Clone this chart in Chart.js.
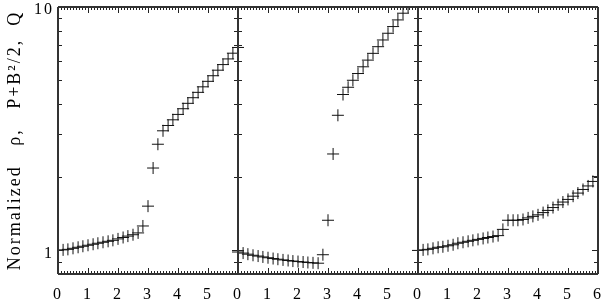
<!DOCTYPE html>
<html>
<head>
<meta charset="utf-8">
<script src="https://cdn.jsdelivr.net/npm/chart.js@4"></script>
<style>
  body { margin: 0; background: #fff; }
  #wrap { width: 605px; height: 300px; position: relative; }
</style>
</head>
<body>
<div id="wrap"><canvas id="chart"></canvas></div>
<script>
// x positions inside one panel (same for all three)
const xGrid = [0, 0.17, 0.33, 0.5, 0.67, 0.83, 1, 1.17, 1.33, 1.5, 1.67, 1.83, 2, 2.17, 2.33, 2.5, 2.67, 2.83,
    3, 3.17, 3.33, 3.5, 3.67, 3.83, 4, 4.17, 4.33, 4.5, 4.67, 4.83, 5, 5.17, 5.33, 5.5, 5.67, 5.83, 6];

// panel 1: rho
const rhoValues = [1.00, 1.005, 1.01, 1.02, 1.03, 1.04, 1.05, 1.06, 1.07, 1.08, 1.09, 1.10, 1.115, 1.13, 1.145, 1.16, 1.18, 1.26,
    1.52, 2.18, 2.73, 3.10, 3.26, 3.44, 3.62, 3.82, 4.02, 4.24, 4.46, 4.70, 4.95, 5.22, 5.50, 5.80, 6.12, 6.46, 6.82];

// panel 2: P + B^2/2
const pressureValues = [0.985, 0.975, 0.965, 0.955, 0.948, 0.94, 0.933, 0.926, 0.92, 0.914, 0.909, 0.904, 0.90, 0.896, 0.892, 0.889, 0.886, 0.96,
    1.33, 2.49, 3.59, 4.37, 4.68, 5.00, 5.33, 5.68, 6.05, 6.45, 6.87, 7.32, 7.80, 8.31, 8.85, 9.43, 10.0, 10.7, 11.4];

// panel 3: Q
const qValues = [1.00, 1.005, 1.01, 1.02, 1.03, 1.035, 1.045, 1.055, 1.07, 1.08, 1.09, 1.10, 1.11, 1.12, 1.13, 1.14, 1.15, 1.22,
    1.33, 1.33, 1.33, 1.34, 1.36, 1.38, 1.40, 1.43, 1.46, 1.50, 1.54, 1.58, 1.62, 1.67, 1.72, 1.78, 1.84, 1.92, 2.01];

const panelOffsets = [0, 6, 12];
const yLabelTicks = [1, 10];
const yMinorTicks = [0.8, 0.9, 2, 3, 4, 5, 6, 7, 8, 9];

const seriesList = [rhoValues, pressureValues, qValues];

const datasets = seriesList.map((vals, p) => ({
    data: vals.map((v, i) => ({ x: xGrid[i] + panelOffsets[p], y: v })),
    showLine: false,
    pointStyle: 'cross',
    pointRadius: 6,
    pointBorderWidth: 1,
    pointBorderColor: '#111',
    pointBackgroundColor: '#111'
}));

// wider letter spacing, like the plotting font of the original
const spacingPlugin = {
    id: 'spacing',
    beforeDraw(chart) { chart.ctx.letterSpacing = '2px'; },
    afterDraw(chart) { chart.ctx.letterSpacing = '0px'; }
};

// frame + inward ticks for each panel
const framePlugin = {
    id: 'frame',
    afterDatasetsDraw(chart) {
        const { ctx, chartArea: a, scales: { x, y } } = chart;
        ctx.save();
        ctx.strokeStyle = '#222';

        // x ticks, top and bottom
        ctx.lineWidth = 1;
        ctx.beginPath();
        for (let k = 0; k <= 180; k++) {
            const px = Math.round(x.getPixelForValue(k / 10)) + 0.5;
            const len = k % 10 === 0 ? 6 : 3;
            ctx.moveTo(px, a.bottom); ctx.lineTo(px, a.bottom - len);
            ctx.moveTo(px, a.top); ctx.lineTo(px, a.top + len);
        }
        ctx.stroke();

        // y ticks on each panel edge
        const edges = [0, 6, 12, 18];
        ctx.beginPath();
        edges.forEach(e => {
            const px = x.getPixelForValue(e);
            const draw = (v, len) => {
                const py = Math.round(y.getPixelForValue(v)) + 0.5;
                if (e < 18) { ctx.moveTo(px, py); ctx.lineTo(px + len, py); }
                if (e > 0) { ctx.moveTo(px, py); ctx.lineTo(px - len, py); }
            };
            yLabelTicks.forEach(v => draw(v, 6));
            yMinorTicks.forEach(v => draw(v, 4));
        });
        ctx.stroke();

        // panel borders
        ctx.lineWidth = 2;
        ctx.strokeStyle = '#333';
        ctx.beginPath();
        ctx.moveTo(a.left, a.top); ctx.lineTo(a.right, a.top);
        ctx.moveTo(a.left, a.bottom); ctx.lineTo(a.right, a.bottom);
        edges.forEach(e => {
            const px = x.getPixelForValue(e);
            ctx.moveTo(px, a.top); ctx.lineTo(px, a.bottom);
        });
        ctx.stroke();
        ctx.restore();
    }
};

const serif = 'Liberation Serif';

new Chart(document.getElementById('chart'), {
    type: 'scatter',
    data: { datasets },
    options: {
        responsive: true,
        maintainAspectRatio: false,
        animation: false,
        layout: { padding: { top: 3, right: 5, left: 0, bottom: 0 } },
        plugins: { legend: { display: false }, tooltip: { enabled: false } },
        scales: {
            x: {
                type: 'linear',
                min: 0,
                max: 18,
                grid: { display: false, drawTicks: false },
                border: { display: false },
                ticks: {
                    stepSize: 1,
                    autoSkip: false,
                    maxRotation: 0,
                    padding: 11,
                    color: '#000',
                    font: { family: serif, size: 16 },
                    callback: v => v === 18 ? '6' : String(v % 6)
                },
                afterFit: s => { s.height = 26; s.paddingLeft = 0; s.paddingRight = 0; }
            },
            y: {
                type: 'logarithmic',
                min: 0.8,
                max: 10,
                grid: { display: false, drawTicks: false },
                border: { display: false },
                afterBuildTicks: s => { s.ticks = yLabelTicks.map(v => ({ value: v })); },
                ticks: {
                    padding: 4,
                    labelOffset: 3,
                    color: '#000',
                    font: { family: serif, size: 16 },
                    callback: v => String(v)
                },
                title: {
                    display: true,
                    text: 'Normalized   ρ,   P+B²/2,  Q',
                    color: '#000',
                    font: { family: serif, size: 18 },
                    padding: { top: 4, bottom: 0 }
                },
                afterFit: s => { s.width = 58; s.paddingTop = 0; s.paddingBottom = 0; }
            }
        }
    },
    plugins: [spacingPlugin, framePlugin]
});
</script>
</body>
</html>
